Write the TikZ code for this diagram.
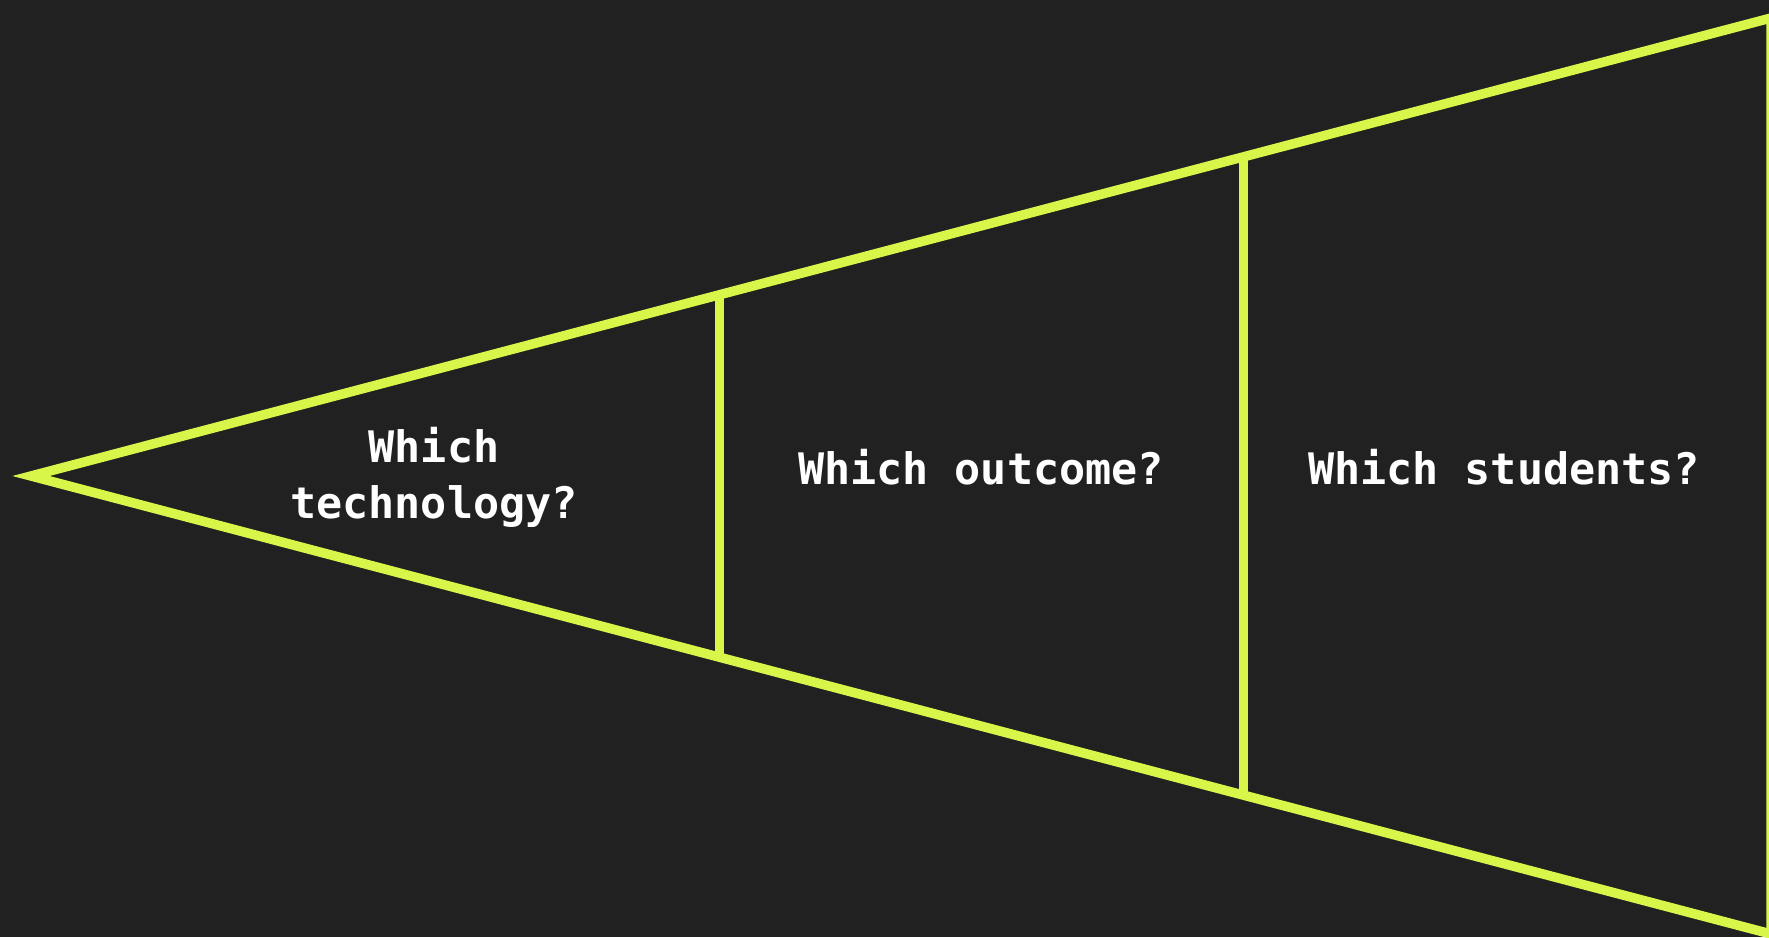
\documentclass[tikz,border=0pt]{standalone}
\usepackage{fontspec}
\newfontfamily\labelfont{DejaVu Sans Mono Bold}
\usetikzlibrary{calc}
\definecolor{bgdark}{HTML}{212121}
\definecolor{lime}{HTML}{D8F64A}
\tikzset{
  funnel/.style={draw=lime, line width=9.5pt, line join=miter},
  divider/.style={draw=lime, line width=9pt},
  question/.style={text=white, font=\labelfont\fontsize{43.4}{56}\selectfont, align=center, inner sep=0pt}
}
\begin{document}
\begin{tikzpicture}[x=1pt,y=1pt]
  % canvas
  \fill[bgdark] (0,0) rectangle (1769,937);
  \useasboundingbox (0,0) rectangle (1769,937);
  % funnel outline
  \coordinate (V) at (31,461);
  \coordinate (TR) at (1771,919);
  \coordinate (BR) at (1771,3);
  \draw[funnel] (V) -- (TR) -- (BR) -- cycle;
  % section dividers
  \coordinate (d1t) at ($(V)!0.3954!(TR)$);
  \coordinate (d1b) at ($(V)!0.3954!(BR)$);
  \coordinate (d2t) at ($(V)!0.6971!(TR)$);
  \coordinate (d2b) at ($(V)!0.6971!(BR)$);
  \draw[divider] (d1t) -- (d1b);
  \draw[divider] (d2t) -- (d2b);
  % questions (base anchor sits on the last line)
  \node[question, anchor=base] (q1) at (434,418) {Which\\technology?};
  \node[question, anchor=base] (q2) at (981,452) {Which outcome?};
  \node[question, anchor=base] (q3) at (1504,452) {Which students?};
\end{tikzpicture}
\end{document}
